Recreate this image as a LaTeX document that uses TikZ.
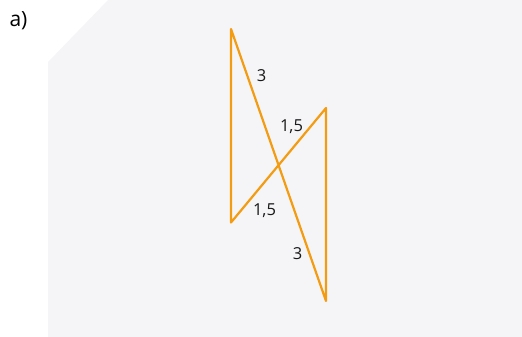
\documentclass[tikz,border=0pt]{standalone}
\usepackage{fontspec}
\setmainfont{Open Sans}
\definecolor{bgpanel}{HTML}{F5F5F8}
\definecolor{segorange}{HTML}{F39C12}
\tikzset{
  seg/.style={draw=segorange, line width=2.2pt, line cap=round, line join=round},
  lbl/.style={font=\fontsize{16.5}{19}\selectfont, inner sep=0pt, text=black!90},
}
\begin{document}
\begin{tikzpicture}[x=1pt,y=-1pt]
\useasboundingbox (0,0) rectangle (522,337);
\fill[bgpanel] (48,62) -- (108,0) -- (522,0) -- (522,337) -- (48,337) -- cycle;
\node[font=\fontsize{21}{24}\selectfont, inner sep=0pt] (lab) at (18.5,20.5) {a)};
\coordinate (A) at (231,29);
\coordinate (B) at (326,301);
\coordinate (C) at (231,222.5);
\coordinate (D) at (326,108);
\draw[seg] (C) -- (A) -- (B) -- (D) -- cycle;
\node[lbl] (l1) at (261.5,76) {3};
\node[lbl] (l2) at (291.5,127) {1,5};
\node[lbl] (l3) at (264.5,211) {1,5};
\node[lbl] (l4) at (297.5,253.5) {3};
\end{tikzpicture}
\end{document}
